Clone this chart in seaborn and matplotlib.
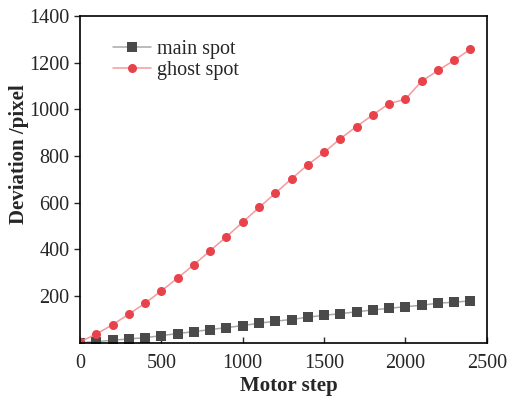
import pandas as pd
import matplotlib.pyplot as plt
import seaborn as sns

####################################
steps = list(range(0, 2500, 100))

main_spot = [
    0, 4, 10, 16, 21, 30, 39, 47, 56, 64, 73, 83, 92,
    99, 109, 117, 124, 132, 140, 147, 154, 160, 169, 173, 179
]

ghost_spot = [
    3, 37, 77, 122, 169, 222, 277, 334, 394, 454, 516, 579, 640,
    702, 762, 815, 874, 926, 976, 1024, 1043, 1120, 1166, 1210, 1257
]

series = ['main spot', 'ghost spot']
x_ticks = [0, 500, 1000, 1500, 2000, 2500]
y_ticks = [200, 400, 600, 800, 1000, 1200, 1400]
####################################

df = pd.DataFrame({
    'step': steps * 2,
    'dev': main_spot + ghost_spot,
    'spot': [s for s in series for _ in steps],
})

sns.set_theme(style='ticks')
plt.rcParams['font.family'] = ['Liberation Serif', 'DejaVu Serif']

marker_col = {'main spot': '#4a4a4a', 'ghost spot': '#e8424b'}
line_col = {'main spot': '#a8a8a8', 'ghost spot': '#f49a9c'}

fig = plt.figure(figsize=(5.07, 3.97), dpi=100)
ax = fig.add_axes([0.158, 0.137, 0.802, 0.823])

sns.lineplot(data=df, x='step', y='dev', hue='spot', style='spot',
             palette=marker_col, markers=['s', 'o'], dashes=False,
             markersize=6.5, linewidth=1.1, markeredgewidth=0, ax=ax)

for ln, s in zip(ax.lines[:2], series):
    ln.set_color(line_col[s])
    ln.set_markerfacecolor(marker_col[s])
    ln.set_markeredgecolor(marker_col[s])

handles, labels = ax.get_legend_handles_labels()
for h, s in zip(handles, labels):
    h.set_color(line_col[s])
    h.set_markerfacecolor(marker_col[s])
    h.set_markeredgecolor(marker_col[s])
ax.legend(handles, labels, loc='upper left', frameon=False, fontsize=14.5,
          bbox_to_anchor=(0.06, 0.95), handlelength=1.9, handletextpad=0.3,
          borderaxespad=0, labelspacing=0.1)

ax.set_xlim(0, 2500)
ax.set_ylim(0, 1400)
ax.set_xticks(x_ticks)
ax.set_yticks(y_ticks)
ax.tick_params(axis='x', direction='in', length=4, width=1, labelsize=14.5, pad=8)
ax.tick_params(axis='y', direction='out', length=4, width=1, labelsize=14.5)
for sp in ax.spines.values():
    sp.set_visible(True)
    sp.set_linewidth(1.2)
    sp.set_color('black')

ax.set_xlabel('Motor step', fontsize=15, fontweight='bold')
ax.set_ylabel('Deviation /pixel', fontsize=15, fontweight='bold')
ax.xaxis.set_label_coords(0.513, -0.102)
ax.xaxis.label.set_va('top')
ax.yaxis.set_label_coords(-0.125, 0.577)

plt.savefig('out.png', dpi=100)
